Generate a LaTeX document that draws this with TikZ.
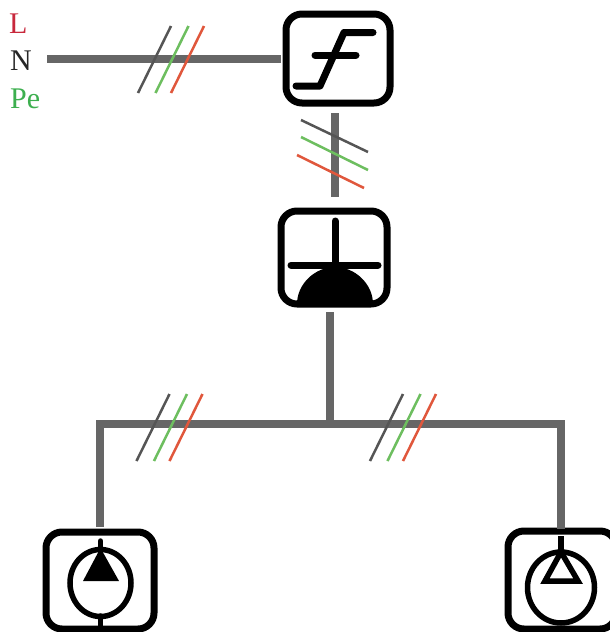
\documentclass[tikz,border=0pt]{standalone}
\usepackage{fontspec}
\setmainfont{Liberation Serif}
\usepackage{tikz}
\definecolor{wiregray}{HTML}{666666}
\definecolor{tickgray}{HTML}{555555}
\definecolor{tickgreen}{HTML}{6DBE5F}
\definecolor{tickred}{HTML}{E0573C}
\definecolor{labelred}{HTML}{C8283C}
\definecolor{labelgreen}{HTML}{3DAF4F}
\tikzset{x=1pt, y=-1pt,
	device/.style={draw, rectangle, rounded corners=16pt, line width=7pt, outer sep=0pt, inner sep=0pt},
	wire/.style={color=wiregray, line width=8pt},
	glyph/.style={line width=7pt, line cap=round, line join=round},
	thin glyph/.style={line width=5.5pt},
	tick/.style={line width=2.5pt},
	phase/.style={anchor=base west, inner sep=0pt, font=\fontsize{30pt}{30pt}\selectfont}}

\begin{document}
\begin{tikzpicture}
	\clip (0,0) rectangle (610,632);
	\node[phase, labelred] at (9,33) (L) {L};
	\node[phase, black!85] at (10,70) (N) {N};
	\node[phase, labelgreen] at (10,108) (Pe) {Pe};
	\node[device, minimum width=104pt, minimum height=89pt] at (338,58.5) (breaker) {};
	\node[device, minimum width=106pt, minimum height=93pt] at (334,257.5) (rcd) {};
	\node[device, minimum width=108pt, minimum height=97pt] at (100,580.5) (pump A) {};
	\node[device, minimum width=108pt, minimum height=98pt] at (562,580) (pump B) {};
	\coordinate (feed) at (47,59);
	\coordinate (tee) at (330,424);

	\draw[wire, shorten >=5pt] (feed) -- (feed -| breaker.west);
	\draw[wire, shorten <=10pt, shorten >=14pt] ([xshift=-3pt]breaker.south) -- ([xshift=1pt]rcd.north);
	\draw[wire, shorten <=8pt] ([xshift=-4pt]rcd.south) -- (tee);
	\draw[wire, shorten <=5pt, shorten >=2pt] (pump A.north) |- (tee) -| ([xshift=-1pt]pump B.north);

	% three conductors
	\foreach \dx/\col in {0/tickgray, 17.5/tickgreen, 33/tickred} {
		\draw[tick, \col] (138+\dx,93) -- (171+\dx,26);
		\draw[tick, \col] (136.5+\dx,461) -- (169.5+\dx,394);
		\draw[tick, \col] (370+\dx,461) -- (403+\dx,394);
	}
	\draw[tick, tickgray] (301,120) -- (368,152);
	\draw[tick, tickgreen] (301,137) -- (368,170);
	\draw[tick, tickred] (297,155) -- (364,188);

	% breaker
	\draw[glyph] (296,86) -- (320,86) -- (344,32.5) -- (373,32.5);
	\draw[glyph] (315,55) -- (356,55);
	% rcd
	\draw[glyph] (335,221) -- (335,264);
	\draw[glyph] (291,265) -- (378,265);
	\fill (297,304) .. controls (297,284) and (315,267) .. (335,267) .. controls (355,267) and (373,284) .. (373,304) -- cycle;
	% pumps
	\draw[thin glyph] (100.5,583) ellipse[x radius=30.5, y radius=33.5];
	\draw[thin glyph, line cap=round] (100.5,541) -- (100.5,552);
	\draw[thin glyph, line cap=round] (100.5,616) -- (100.5,626);
	\fill (100.5,548) -- (119,581) -- (83,581) -- cycle;
	\draw[thin glyph] (561,587.5) ellipse[x radius=33.5, y radius=35.5];
	\draw[thin glyph] (561,536) -- (561,552);
	\draw[thin glyph, line join=miter] (561,552) -- (578,581) -- (545,581) -- cycle;
\end{tikzpicture}
\end{document}
